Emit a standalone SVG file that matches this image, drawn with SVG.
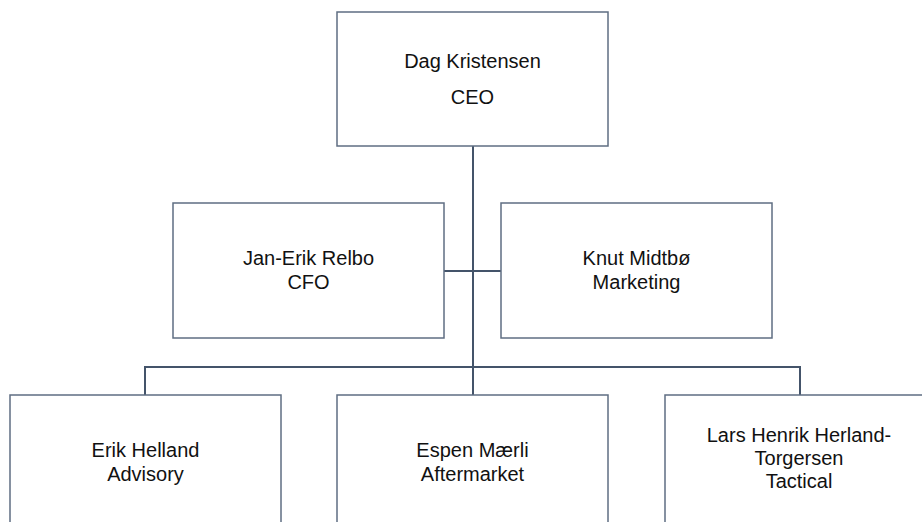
<svg xmlns="http://www.w3.org/2000/svg" width="922" height="522" viewBox="0 0 922 522">
  <style>
    .box { fill: #ffffff; stroke: #5f6e82; stroke-width: 1.5; }
    .conn { fill: none; stroke: #44546a; stroke-width: 2; }
    .lbl { font-family: "Liberation Sans", Arial, sans-serif; font-size: 20px; fill: #111111; text-anchor: middle; }
  </style>
  <rect width="922" height="522" fill="#ffffff"/>
  <g id="connectors">
    <path class="conn" d="M473,146 V522"/>
    <path class="conn" d="M444,271 H501"/>
    <path class="conn" d="M145,395 V367 H800 V395"/>
  </g>
  <g id="ceo">
    <rect class="box" x="337" y="12" width="271" height="134"/>
    <text class="lbl" x="472.5" y="68">Dag Kristensen</text>
    <text class="lbl" x="472.5" y="104">CEO</text>
  </g>
  <g id="cfo">
    <rect class="box" x="173" y="203" width="271" height="135"/>
    <text class="lbl" x="308.5" y="265">Jan-Erik Relbo</text>
    <text class="lbl" x="308.5" y="289">CFO</text>
  </g>
  <g id="marketing">
    <rect class="box" x="501" y="203" width="271" height="135"/>
    <text class="lbl" x="636.5" y="265">Knut Midtbø</text>
    <text class="lbl" x="636.5" y="289">Marketing</text>
  </g>
  <g id="advisory">
    <rect class="box" x="10" y="395" width="271" height="140"/>
    <text class="lbl" x="145.5" y="457">Erik Helland</text>
    <text class="lbl" x="145.5" y="481">Advisory</text>
  </g>
  <g id="aftermarket">
    <rect class="box" x="337" y="395" width="271" height="140"/>
    <text class="lbl" x="472.5" y="457">Espen Mærli</text>
    <text class="lbl" x="472.5" y="481">Aftermarket</text>
  </g>
  <g id="tactical">
    <rect class="box" x="665" y="395" width="271" height="140"/>
    <text class="lbl" x="799" y="442">Lars Henrik Herland-</text>
    <text class="lbl" x="799" y="465">Torgersen</text>
    <text class="lbl" x="799" y="488">Tactical</text>
  </g>
</svg>
